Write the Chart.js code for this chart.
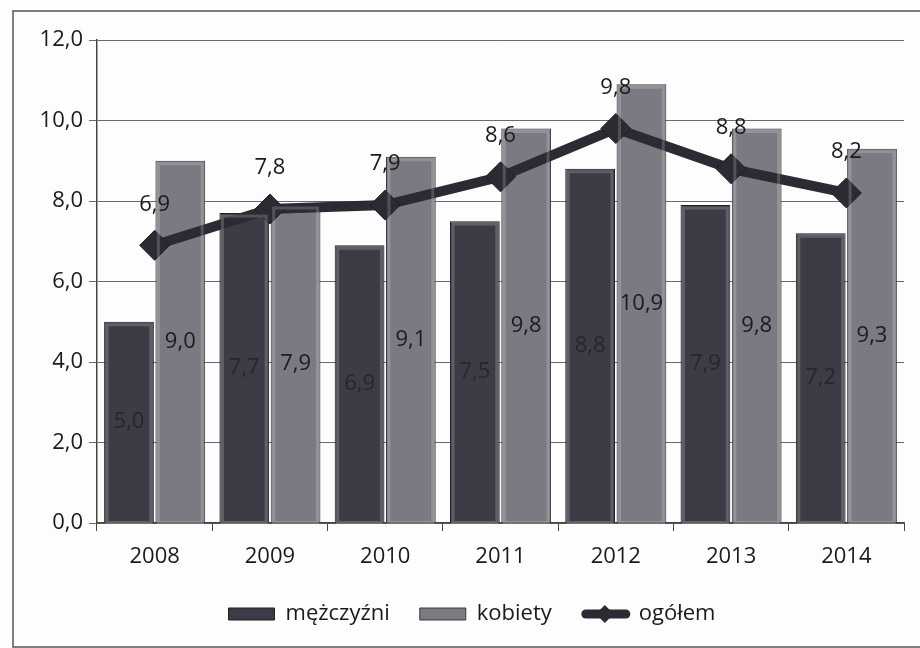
<!DOCTYPE html>
<html>
<head>
<meta charset="utf-8">
<script src="https://cdn.jsdelivr.net/npm/chart.js@4/dist/chart.umd.min.js"></script>
<style>
  html, body { margin: 0; padding: 0; background: #fff; }
  #wrap { width: 920px; height: 648px; }
</style>
</head>
<body>
<div id="wrap"><canvas id="js--chart--1" width="920" height="648"></canvas></div>
<script>
const labels = ["2008", "2009", "2010", "2011", "2012", "2013", "2014"];
const mezczyzni = [5.0, 7.7, 6.9, 7.5, 8.8, 7.9, 7.2];
const kobiety = [9.0, 7.9, 9.1, 9.8, 10.9, 9.8, 9.3];
const ogolem = [6.9, 7.8, 7.9, 8.6, 9.8, 8.8, 8.2];
const yTicks = [0, 2, 4, 6, 8, 10, 12];

const FONT = "'Open Sans', 'DejaVu Sans', sans-serif";

function fmt(v) {
    return v.toFixed(1).replace('.', ',');
}

// background + frame (right side runs off the page like in the scan)
const frame = {
    id: 'frame',
    beforeDraw(chart) {
        const c = chart.ctx;
        c.save();
        c.fillStyle = '#fdfdfd';
        c.fillRect(0, 0, chart.width, chart.height);
        c.strokeStyle = '#555';
        c.lineWidth = 1.5;
        c.strokeRect(13, 11, 920, 636);
        c.restore();
    }
};

// subtle bevel on the bars
const bevel = {
    id: 'bevel',
    afterDatasetsDraw(chart) {
        const c = chart.ctx;
        c.save();
        [1, 2].forEach(function (i) {
            chart.getDatasetMeta(i).data.forEach(function (el) {
                const w = el.width, l = el.x - w / 2;
                c.strokeStyle = 'rgba(255,255,255,0.18)';
                c.lineWidth = 3;
                c.strokeRect(l + 3, el.y + 3, w - 6, el.base - el.y - 3);
            });
        });
        c.restore();
    }
};

// value labels (bars: middle of the bar, line: above the point)
const valueLabels = {
    id: 'valueLabels',
    afterDatasetsDraw(chart) {
        const c = chart.ctx;
        c.save();
        c.font = '22px ' + FONT;
        c.textAlign = 'center';
        c.textBaseline = 'middle';
        chart.data.datasets.forEach(function (ds, i) {
            const meta = chart.getDatasetMeta(i);
            meta.data.forEach(function (el, j) {
                const txt = fmt(ds.data[j]);
                if (ds.type === 'line') {
                    c.fillStyle = '#1a1a1a';
                    c.fillText(txt, el.x, el.y - 41);
                } else {
                    c.fillStyle = i === 2 ? '#1a1a20' : '#26262c';
                    c.fillText(txt, el.x, (el.y + el.base) / 2);
                }
            });
        });
        c.restore();
    }
};

// thick line + diamond for the "ogółem" legend entry
const legendLine = {
    id: 'legendLine',
    afterDraw(chart) {
        const lg = chart.legend;
        if (!lg || !lg.legendHitBoxes) return;
        const idx = lg.legendItems.findIndex(function (it) { return it.datasetIndex === 0; });
        const hb = lg.legendHitBoxes[idx];
        if (!hb) return;
        const c = chart.ctx;
        const bw = lg.options.labels.boxWidth;
        const cy = hb.top + hb.height / 2;
        c.save();
        c.strokeStyle = '#2b2b33';
        c.lineWidth = 9;
        c.lineCap = 'round';
        c.beginPath();
        c.moveTo(hb.left + 4, cy);
        c.lineTo(hb.left + bw - 2, cy);
        c.stroke();
        c.fillStyle = '#2b2b33';
        const mx = hb.left + bw / 2, r = 9;
        c.beginPath();
        c.moveTo(mx, cy - r);
        c.lineTo(mx + r, cy);
        c.lineTo(mx, cy + r);
        c.lineTo(mx - r, cy);
        c.closePath();
        c.fill();
        c.restore();
    }
};

const data = {
    labels: labels,
    datasets: [
        {
            type: 'line',
            label: 'ogółem',
            data: ogolem,
            order: 0,
            borderColor: '#2b2b33',
            backgroundColor: 'rgba(0,0,0,0)',
            borderWidth: 10,
            pointStyle: 'rectRot',
            pointRadius: 15,
            pointBackgroundColor: '#2b2b33',
            pointBorderColor: '#1e1e24',
            pointBorderWidth: 1,
            tension: 0
        },
        {
            type: 'bar',
            label: 'mężczyźni',
            data: mezczyzni,
            order: 1,
            backgroundColor: '#3c3c46',
            borderColor: '#1e1e24',
            borderWidth: 1,
            barPercentage: 0.97,
            categoryPercentage: 0.89
        },
        {
            type: 'bar',
            label: 'kobiety',
            data: kobiety,
            order: 1,
            backgroundColor: '#7a7a82',
            borderColor: '#3a3a40',
            borderWidth: 1,
            barPercentage: 0.97,
            categoryPercentage: 0.89
        }
    ]
};

const config = {
    data: data,
    plugins: [frame, bevel, valueLabels, legendLine],
    options: {
        responsive: false,
        animation: false,
        layout: { padding: { left: 40, right: 16, top: 40, bottom: 13 } },
        scales: {
            x: {
                offset: true,
                grid: {
                    display: true,
                    drawOnChartArea: false,
                    drawTicks: true,
                    tickLength: 8,
                    color: '#444',
                    offset: true
                },
                border: { color: '#444', width: 1.5 },
                ticks: {
                    color: '#1a1a1a',
                    padding: 13,
                    font: { family: FONT, size: 22 }
                },
                afterFit(scale) { scale.height = 50; }
            },
            y: {
                min: 0,
                max: 12,
                afterBuildTicks(scale) {
                    scale.ticks = yTicks.map(function (v) { return { value: v }; });
                },
                grid: {
                    color: '#6a6a6a',
                    lineWidth: 1,
                    tickLength: 8
                },
                border: { color: '#444', width: 1.5 },
                ticks: {
                    color: '#1a1a1a',
                    padding: 6,
                    font: { family: FONT, size: 22 },
                    callback: function (v) { return fmt(v); }
                },
                afterFit(scale) { scale.width = 57; }
            }
        },
        plugins: {
            tooltip: { enabled: false },
            legend: {
                position: 'bottom',
                labels: {
                    boxWidth: 46,
                    boxHeight: 12,
                    padding: 30,
                    color: '#1a1a1a',
                    font: { family: FONT, size: 22 },
                    sort: function (a, b) {
                        const rank = [2, 0, 1];
                        return rank[a.datasetIndex] - rank[b.datasetIndex];
                    },
                    generateLabels: function (chart) {
                        return chart.data.datasets.map(function (ds, i) {
                            const isLine = ds.type === 'line';
                            return {
                                text: ds.label,
                                datasetIndex: i,
                                fillStyle: isLine ? 'rgba(0,0,0,0)' : ds.backgroundColor,
                                strokeStyle: isLine ? 'rgba(0,0,0,0)' : ds.borderColor,
                                lineWidth: isLine ? 0 : 1,
                                fontColor: '#1a1a1a',
                                hidden: false
                            };
                        });
                    }
                }
            }
        }
    }
};

new Chart(document.getElementById("js--chart--1"), config);
</script>
</body>
</html>
